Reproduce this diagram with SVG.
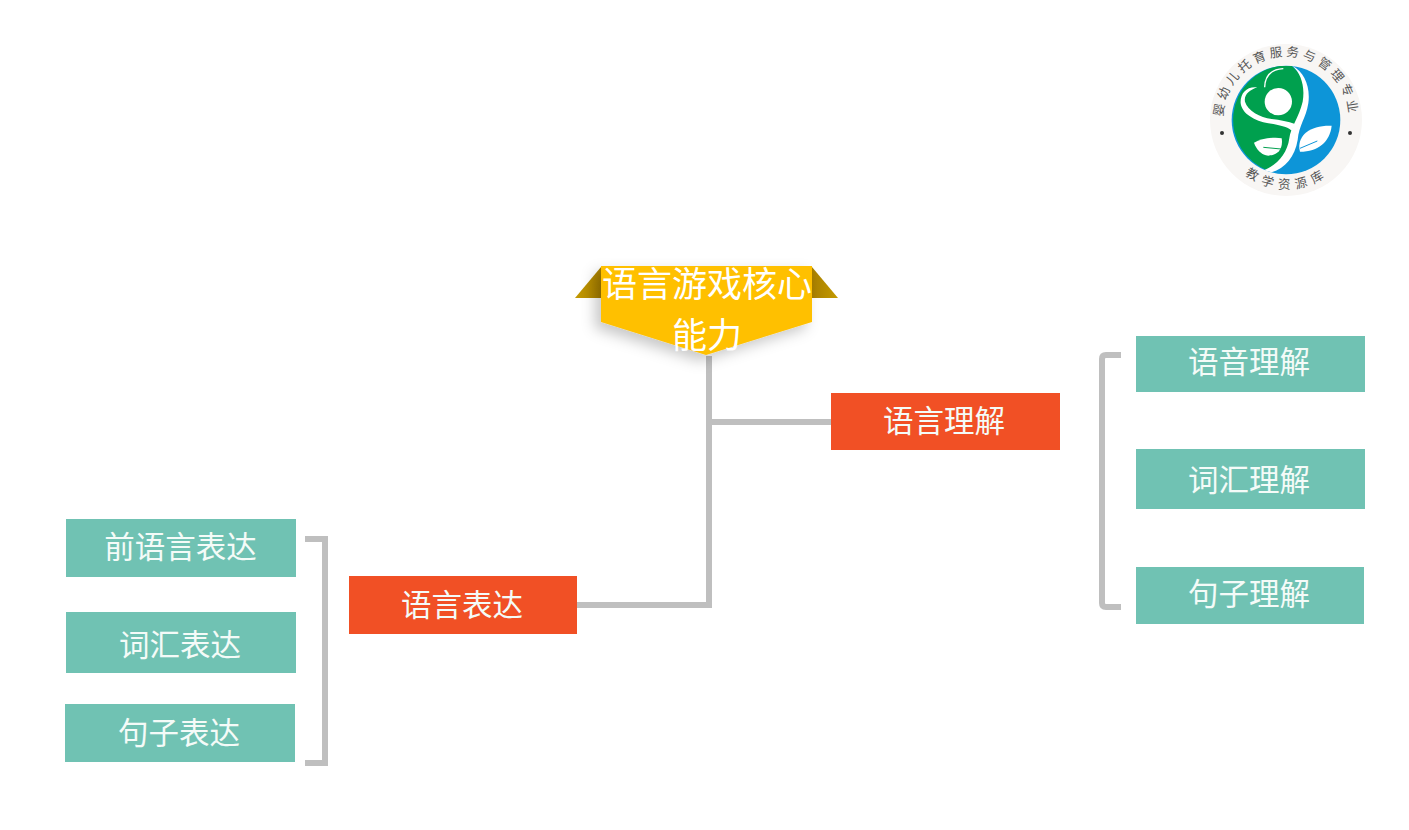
<svg xmlns="http://www.w3.org/2000/svg" width="1409" height="830" viewBox="0 0 1409 830">
<style>
.t{fill:#70c2b3}.o{fill:#f15025}
.l{font-family:"Noto Sans CJK SC","Noto Sans",sans-serif;font-size:30.5px;fill:#f4fbf8;text-anchor:middle;font-weight:400}
.c{fill:none;stroke:#bfbfbf;stroke-width:6}
.r{font-family:"Noto Sans CJK SC",sans-serif;font-size:12.5px;fill:#555}
.h{font-family:"Noto Sans CJK SC",sans-serif;font-size:35px;fill:#fff;text-anchor:middle;font-weight:400}
</style>
<defs>
<filter id="sh" x="-20%" y="-20%" width="140%" height="150%"><feDropShadow dx="-6" dy="6" stdDeviation="7" flood-color="#000" flood-opacity=".22"/></filter>
<linearGradient id="wl" x1="0" x2="1" y1="0" y2="0"><stop offset="0" stop-color="#c49a00"/><stop offset="1" stop-color="#a87f00"/></linearGradient>
<linearGradient id="wr" x1="0" x2="1" y1="0" y2="0"><stop offset="0" stop-color="#a87f00"/><stop offset="1" stop-color="#c49a00"/></linearGradient>
<path id="ta" d="M1226.500,140 A63,63 0 1 1 1345.500,140"/>
<path id="tb" d="M1230,158 A68,68 0 0 0 1344,158"/>
</defs>
<g id="connectors">
<path class="c" d="M709,356V608"/>
<path class="c" d="M709,422H831"/>
<path class="c" d="M577,605H712"/>
<path class="c" d="M305,539H325V763H305"/>
<path class="c" d="M1121,355H1106Q1102,355 1102,359V603Q1102,607 1106,607H1121"/>
</g>
<g id="logo">
<circle cx="1286" cy="120" r="76" fill="#f8f6f4"/>
<g transform="translate(1200 40) scale(.3333)">
<circle cx="258" cy="240" r="163" fill="#0d95d8"/>
<path d="M240,78A163,163 0 0 0 205,392C245,372 268,335 272,290C275,262 300,240 312,190C320,140 305,100 275,78Z" fill="#00a04e"/>
<path d="M278,78C312,95 332,140 325,190C318,235 297,255 293,300C285,350 255,385 215,397L192,391C232,375 262,340 268,295C272,262 297,232 308,185C316,138 302,100 278,78Z" fill="#fff"/>
<path d="M172,142C140,138 120,160 122,190C126,222 165,243 205,250C235,255 262,260 275,272L285,252C265,244 240,240 215,237C180,232 143,212 135,185C131,165 148,150 172,142Z" fill="#fff"/>
<path d="M250,86C215,88 195,105 194,142" fill="none" stroke="#fff" stroke-width="4"/>
<circle cx="235" cy="185" r="41" fill="#fff"/>
<path d="M162,308C185,295 225,290 245,295C250,325 235,345 205,347C185,345 170,330 162,308Z" fill="#fff"/>
<path d="M190,322L243,327" stroke="#00a04e" stroke-width="3" fill="none"/>
<path d="M298,325C295,285 330,255 395,257C390,305 355,335 300,335Z" fill="#fff"/>
<path d="M300,325L352,303" stroke="#0d95d8" stroke-width="3" fill="none"/>
</g>
<circle cx="1222" cy="133" r="2" fill="#333"/><circle cx="1350" cy="133" r="2" fill="#333"/>
<text class="r" letter-spacing="3.500"><textPath href="#ta" startOffset="50%" text-anchor="middle">婴幼儿托育服务与管理专业</textPath></text>
<text class="r" letter-spacing="5.500"><textPath href="#tb" startOffset="50%" text-anchor="middle">教学资源库</textPath></text>
</g>
<g id="root">
<path d="M575,298L601,267V298Z" fill="url(#wl)"/>
<path d="M838,298L812,267V298Z" fill="url(#wr)"/>
<path d="M601,266H812V322L706,355L601,322Z" fill="#ffc000" filter="url(#sh)"/>
<text class="h" x="707" y="297">语言游戏核心</text>
<text class="h" x="707" y="348">能力</text>
</g>
<g id="n-yybd"><rect class="o" x="349" y="576" width="228" height="58"/><text class="l" x="462" y="616">语言表达</text></g>
<g id="n-yylj"><rect class="o" x="831" y="393" width="229" height="57"/><text class="l" x="944" y="432">语言理解</text></g>
<g id="n-qyy"><rect class="t" x="66" y="519" width="230" height="58"/><text class="l" x="180.500" y="558">前语言表达</text></g>
<g id="n-chbd"><rect class="t" x="66" y="612" width="230" height="61"/><text class="l" x="180" y="656">词汇表达</text></g>
<g id="n-jzbd"><rect class="t" x="65" y="704" width="230" height="58"/><text class="l" x="179" y="744">句子表达</text></g>
<g id="n-yylj2"><rect class="t" x="1136" y="336" width="229" height="56"/><text class="l" x="1249" y="373">语音理解</text></g>
<g id="n-chlj"><rect class="t" x="1136" y="449" width="229" height="60"/><text class="l" x="1249" y="491">词汇理解</text></g>
<g id="n-jzlj"><rect class="t" x="1136" y="567" width="228" height="57"/><text class="l" x="1249" y="605">句子理解</text></g>
</svg>
